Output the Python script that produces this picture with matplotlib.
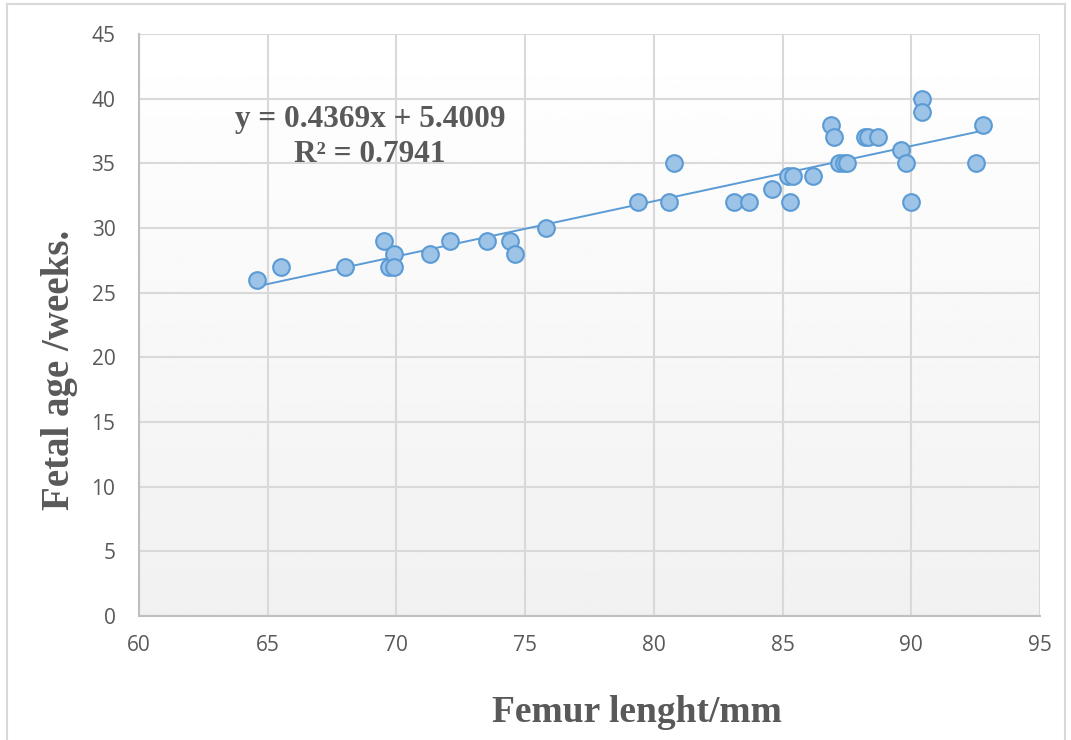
import numpy as np
import matplotlib.pyplot as plt
from matplotlib.lines import Line2D

# femur length (mm) vs fetal age (weeks)
femur_mm = [64.6, 65.5, 68.0, 69.5, 69.7, 69.9, 69.9, 71.3, 72.1, 73.5,
            74.4, 74.6, 75.8, 79.4, 80.6, 80.8, 83.1, 83.7, 84.6, 85.2,
            85.3, 85.4, 86.2, 86.9, 87.0, 87.2, 87.4, 87.5, 88.2, 88.3,
            88.7, 89.6, 89.8, 90.0, 90.4, 90.4, 92.5, 92.8]
age_weeks = [26, 27, 27, 29, 27, 28, 27, 28, 29, 29,
             29, 28, 30, 32, 32, 35, 32, 32, 33, 34,
             32, 34, 34, 38, 37, 35, 35, 35, 37, 37,
             37, 36, 35, 32, 40, 39, 35, 38]
x_ticks = [60, 65, 70, 75, 80, 85, 90, 95]
y_ticks = [0, 5, 10, 15, 20, 25, 30, 35, 40, 45]
eq_line = "y = 0.4369x + 5.4009"
r2_line = "R² = 0.7941"

x = np.array(femur_mm)
y = np.array(age_weeks)

W, H = 1071, 740
fig = plt.figure(figsize=(W / 100, H / 100), dpi=100)
ax = fig.add_axes([139 / W, 124 / H, 901 / W, 582 / H])

# outer chart frame
for xs, ys in [((7, 7), (0, 736)), ((7, 1065), (736, 736)), ((1065, 1065), (0, 736))]:
    fig.add_artist(Line2D([v / W for v in xs], [v / H for v in ys],
                          color='#d9d9d9', lw=1.5, transform=fig.transFigure))

# plot-area background: white at top fading to light grey at bottom
grad = np.linspace(1.0, 0.945, 256).reshape(-1, 1)
ax.imshow(grad, extent=[60, 95, 0, 45], aspect='auto', cmap='gray',
          vmin=0, vmax=1, origin='upper', zorder=0)

ax.set_xlim(60, 95)
ax.set_ylim(0, 45)
ax.set_xticks(x_ticks)
ax.set_yticks(y_ticks)
ax.grid(True, color='#d9d9d9', lw=1.5, zorder=1)
for side in ['top', 'right']:
    ax.spines[side].set_visible(False)
for side in ['left', 'bottom']:
    ax.spines[side].set_color('#bfbfbf')
    ax.spines[side].set_linewidth(1.5)
ax.tick_params(length=0, labelsize=15, labelcolor='#595959')
ax.tick_params(axis='x', pad=14)
ax.tick_params(axis='y', pad=17)
for lab in ax.get_xticklabels() + ax.get_yticklabels():
    lab.set_fontfamily('Open Sans')

# linear trendline
k, b = np.polyfit(x, y, 1)
xl = np.array([x.min(), x.max()])
ax.plot(xl, k * xl + b, color='#5b9bd5', lw=1.4, zorder=3)

ax.plot(x, y, 'o', ms=12, mfc='#9dc3e6', mec='#5b9bd5', mew=1.5, zorder=4,
        linestyle='none')

eq_style = dict(ha='center', va='center', fontsize=22.5, fontweight='bold',
                family='Liberation Serif', color='#595959')
fig.text(370 / W, 1 - 120 / H, eq_line, **eq_style)
fig.text(370 / W, 1 - 155 / H, r2_line, **eq_style)

fig.text(637 / W, 1 - 713 / H, 'Femur lenght/mm', ha='center', va='center',
         fontsize=27, fontweight='bold', family='Liberation Serif', color='#595959')
fig.text(60 / W, 1 - 370 / H, 'Fetal age /weeks.', ha='center', va='center',
         rotation=90, fontsize=28, fontweight='bold', family='Liberation Serif',
         color='#595959')

fig.savefig('out.png', dpi=100)
